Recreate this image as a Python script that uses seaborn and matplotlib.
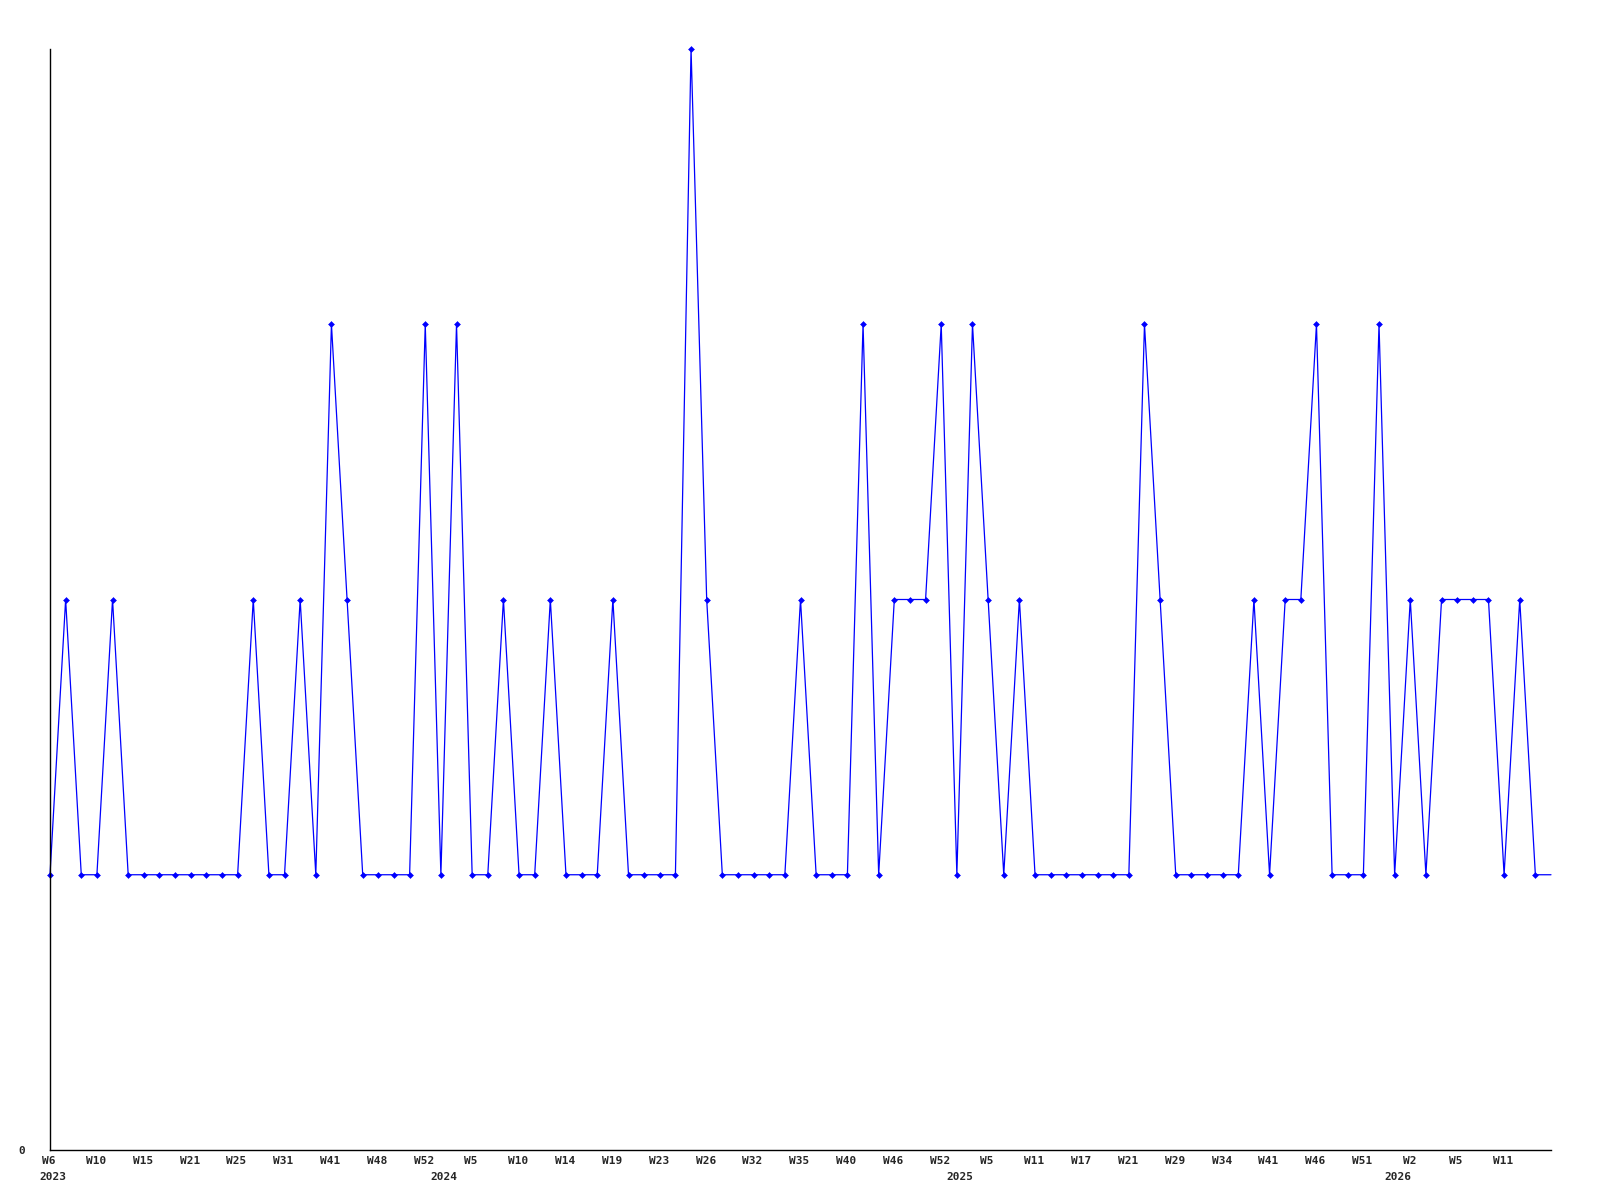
import pandas as pd
import matplotlib.pyplot as plt
import seaborn as sns
from matplotlib.transforms import ScaledTranslation

# Weekly counts, one value per plotted week (last point is the running week, no marker)
counts = [1, 2, 1, 1, 2, 1, 1, 1, 1, 1, 1, 1, 1, 2, 1, 1, 2, 1, 3, 2,
          1, 1, 1, 1, 3, 1, 3, 1, 1, 2, 1, 1, 2, 1, 1, 1, 2, 1, 1, 1,
          1, 4, 2, 1, 1, 1, 1, 1, 2, 1, 1, 1, 3, 1, 2, 2, 2, 3, 1, 3,
          2, 1, 2, 1, 1, 1, 1, 1, 1, 1, 3, 2, 1, 1, 1, 1, 1, 2, 1, 2,
          2, 3, 1, 1, 1, 3, 1, 2, 1, 2, 2, 2, 2, 1, 2, 1, 1]

# Labels shown on every third week
week_labels = ['W6', 'W10', 'W15', 'W21', 'W25', 'W31', 'W41', 'W48', 'W52', 'W5',
               'W10', 'W14', 'W19', 'W23', 'W26', 'W32', 'W35', 'W40', 'W46', 'W52',
               'W5', 'W11', 'W17', 'W21', 'W29', 'W34', 'W41', 'W46', 'W51', 'W2',
               'W5', 'W11']
label_step = 3

# Years and the first plotted week of each year
years = ['2023', '2024', '2025', '2026']
year_first_week = [0, 25, 58, 86]

df = pd.DataFrame({'week': range(len(counts)), 'count': counts})

sns.set_style('white')
plt.rcParams['font.family'] = ['DejaVu Sans Mono']

fig = plt.figure(figsize=(16, 12), dpi=100)
ax = fig.add_axes([50 / 1600, 50 / 1200, 1501 / 1600, 1101 / 1200])

sns.lineplot(data=df, x='week', y='count', ax=ax, color='#0000ff', lw=0.9,
             marker='D', markersize=3, markeredgecolor='#0000ff',
             markeredgewidth=0.4, markevery=list(range(len(counts) - 1)),
             clip_on=False)

ax.set_xlim(0, len(counts) - 1)
ax.set_ylim(0, 4)
ax.set_xlabel('')
ax.set_ylabel('')

ax.set_xticks(range(0, label_step * len(week_labels), label_step), week_labels)
ax.set_yticks([0], ['0'])
ax.tick_params(length=0, labelsize=8)
ax.tick_params(axis='x', pad=4)
ax.tick_params(axis='y', pad=18)
shift = ScaledTranslation(-1 / 100, 0, fig.dpi_scale_trans)
for lbl in ax.get_xticklabels():
    lbl.set_fontweight('bold')
    lbl.set_transform(lbl.get_transform() + shift)
for lbl in ax.get_yticklabels():
    lbl.set_fontweight('bold')

for year, pos in zip(years, year_first_week):
    ax.annotate(year, xy=(pos, 0), xycoords=('data', 'axes fraction'),
                xytext=(3, -27), textcoords='offset pixels',
                ha='center', va='center', fontsize=8, fontweight='bold')

for side in ['top', 'right']:
    ax.spines[side].set_visible(False)
for side in ['left', 'bottom']:
    ax.spines[side].set_color('black')
    ax.spines[side].set_linewidth(1)

fig.savefig('out.png', dpi=100)
